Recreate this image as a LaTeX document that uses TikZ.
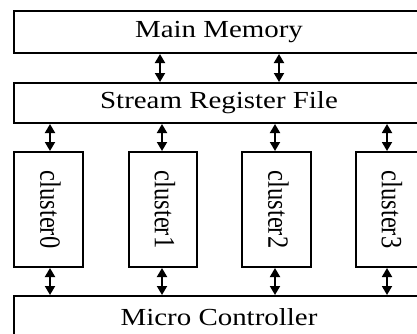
\documentclass[tikz,border=0pt]{standalone}
\usepackage{fontspec}
\setmainfont{Liberation Serif}
\usetikzlibrary{arrows.meta}
\tikzset{
  blk/.style={draw, line width=2pt, inner sep=0pt, anchor=north west,
    font=\fontsize{24.5}{28}\selectfont},
  arr/.style={line width=1.8pt, {Triangle[length=9pt,width=10pt]}-{Triangle[length=9pt,width=10pt]}},
  vlab/.style={rotate=-90, font=\fontsize{24.5}{28}\selectfont, inner sep=0pt}
}
\begin{document}
\begin{tikzpicture}[x=1pt,y=1pt]
\useasboundingbox (0,0) rectangle (417,333);
\node[blk, minimum width=410pt, minimum height=42pt] (mm) at (13,323) {\scalebox{1.18}[1]{Main Memory}};
\node[blk, minimum width=410pt, minimum height=40pt] (srf) at (13,251) {\scalebox{1.18}[1]{Stream Register File}};
\node[blk, minimum width=69pt, minimum height=115pt] (c0) at (13,182) {};
\node[blk, minimum width=68pt, minimum height=115pt] (c1) at (128,182) {};
\node[blk, minimum width=69pt, minimum height=115pt] (c2) at (241,182) {};
\node[blk, minimum width=68pt, minimum height=115pt] (c3) at (355,182) {};
\node[vlab] (l0) at ([xshift=2pt]c0.center) {\scalebox{1}[1.2]{cluster0}};
\node[vlab] (l1) at ([xshift=2pt]c1.center) {\scalebox{1}[1.2]{cluster1}};
\node[vlab] (l2) at ([xshift=2pt]c2.center) {\scalebox{1}[1.2]{cluster2}};
\node[vlab] (l3) at ([xshift=2pt]c3.center) {\scalebox{1}[1.2]{cluster3}};
\node[blk, minimum width=410pt, minimum height=42pt] (mc) at (13,38) {\scalebox{1.18}[1]{Micro Controller}};
\coordinate (ta) at (160,0);
\coordinate (tb) at (279,0);
\coordinate (x0) at (50,0);
\coordinate (x1) at (162,0);
\coordinate (x2) at (275,0);
\coordinate (x3) at (387,0);
\draw[arr] (mm.south -| ta) -- (srf.north -| ta);
\draw[arr] (mm.south -| tb) -- (srf.north -| tb);
\draw[arr] (srf.south -| x0) -- (c0.north -| x0);
\draw[arr] (srf.south -| x1) -- (c1.north -| x1);
\draw[arr] (srf.south -| x2) -- (c2.north -| x2);
\draw[arr] (srf.south -| x3) -- (c3.north -| x3);
\draw[arr] (c0.south -| x0) -- (mc.north -| x0);
\draw[arr] (c1.south -| x1) -- (mc.north -| x1);
\draw[arr] (c2.south -| x2) -- (mc.north -| x2);
\draw[arr] (c3.south -| x3) -- (mc.north -| x3);
\end{tikzpicture}
\end{document}
